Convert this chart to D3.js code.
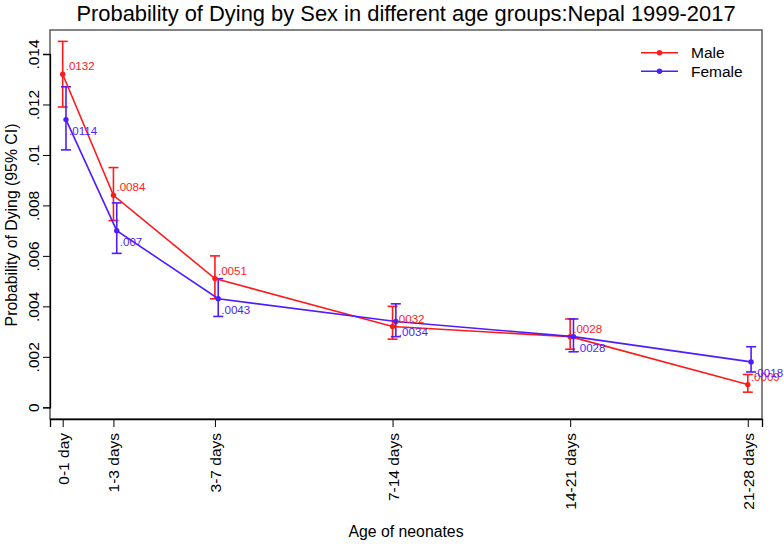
<!DOCTYPE html>
<html>
<head>
<meta charset="utf-8">
<script src="https://cdn.jsdelivr.net/npm/d3@7"></script>
<style>
  html, body { margin: 0; padding: 0; background: #fff; }
  svg { display: block; font-family: "Liberation Sans", Arial, Helvetica, sans-serif; }
</style>
</head>
<body>
<svg id="chart" width="784" height="544"></svg>
<script>
// ---- data ----
const ageGroups = ["0-1 day", "1-3 days", "3-7 days", "7-14 days", "14-21 days", "21-28 days"];
const ageDay = [1, 3, 7, 14, 21, 28];
const maleP  = [0.0132, 0.0084, 0.0051, 0.0032, 0.0028, 0.0009];
const maleLo = [0.0119, 0.0074, 0.0043, 0.0027, 0.0023, 0.0006];
const maleHi = [0.0145, 0.0095, 0.0060, 0.0040, 0.0035, 0.0013];
const maleLabels = [".0132", ".0084", ".0051", ".0032", ".0028", ".0009"];
const femaleP  = [0.0114, 0.0070, 0.0043, 0.0034, 0.0028, 0.0018];
const femaleLo = [0.0102, 0.0061, 0.0036, 0.0028, 0.0022, 0.0014];
const femaleHi = [0.0127, 0.0081, 0.0051, 0.0041, 0.0035, 0.0024];
const femaleLabels = [".0114", ".007", ".0043", ".0034", ".0028", ".0018"];
const yTicks = [0, 0.002, 0.004, 0.006, 0.008, 0.010, 0.012, 0.014];
const yTickLabels = ["0", ".002", ".004", ".006", ".008", ".01", ".012", ".014"];
const seriesNames = ["Male", "Female"];

// ---- layout ----
const svg = d3.select("#chart");
const L = 50, R = 762, T = 30, B = 419;
const x = d3.scaleLinear().domain([0.5, 28.56]).range([L, R]);
const y = d3.scaleLinear().domain([0, 0.014]).range([407.3, 54]);
const RED = "#ff1a1a", BLUE = "#4f1cff";
const FEMALE_DX = 3.3;

// frame
svg.append("rect").attr("x", L).attr("y", T).attr("width", R - L).attr("height", B - T)
  .attr("fill", "none").attr("stroke", "#333").attr("stroke-width", 1.2);

// y axis
const yAxis = svg.append("g").attr("transform", `translate(${L},0)`)
  .call(d3.axisLeft(y).tickValues(yTicks).tickSize(7).tickFormat((d, i) => yTickLabels[i]));
yAxis.select(".domain").attr("stroke", "#000").attr("stroke-width", 1.3);
yAxis.selectAll(".tick line").attr("stroke", "#000").attr("stroke-width", 1);
yAxis.selectAll(".tick text")
  .attr("font-size", 15.5).attr("font-family", "Liberation Sans, Arial, sans-serif")
  .attr("fill", "#000").attr("text-anchor", "middle").attr("dy", null)
  .attr("dominant-baseline", "central")
  .attr("x", null)
  .attr("transform", "translate(-17,0) rotate(-90)");

// x axis
const xAxis = svg.append("g").attr("transform", `translate(0,${B})`)
  .call(d3.axisBottom(x).tickValues(ageDay).tickSize(8).tickFormat((d, i) => ageGroups[i]));
xAxis.select(".domain").attr("stroke", "#000").attr("stroke-width", 1.3);
xAxis.selectAll(".tick line").attr("stroke", "#000").attr("stroke-width", 1);
xAxis.selectAll(".tick text")
  .attr("font-size", 15.5).attr("font-family", "Liberation Sans, Arial, sans-serif")
  .attr("fill", "#000").attr("text-anchor", "end").attr("dy", null).attr("y", null)
  .attr("dominant-baseline", "central")
  .attr("transform", "translate(0,14) rotate(-90)");

// axis titles
svg.append("text").attr("x", 406).attr("y", 536.5).attr("text-anchor", "middle")
  .attr("font-size", 15.8).text("Age of neonates");
svg.append("text").attr("transform", "translate(17,225) rotate(-90)").attr("text-anchor", "middle")
  .attr("font-size", 15.8).text("Probability of Dying (95% CI)");
// title
svg.append("text").attr("x", 406).attr("y", 20.5).attr("text-anchor", "middle")
  .attr("font-size", 21.9).text("Probability of Dying by Sex in different age groups:Nepal 1999-2017");

// series
const series = [
  { name: seriesNames[0], p: maleP, lo: maleLo, hi: maleHi, lab: maleLabels, color: RED, dx: 0, labDy: -4 },
  { name: seriesNames[1], p: femaleP, lo: femaleLo, hi: femaleHi, lab: femaleLabels, color: BLUE, dx: FEMALE_DX, labDy: 15 }
];
const capW = 5;
series.forEach(s => {
  const g = svg.append("g");
  ageDay.forEach((a, i) => {
    const px = x(a) + s.dx;
    g.append("line").attr("x1", px).attr("x2", px).attr("y1", y(s.lo[i])).attr("y2", y(s.hi[i]))
      .attr("stroke", s.color).attr("stroke-width", 1.6);
    [s.lo[i], s.hi[i]].forEach(v => {
      g.append("line").attr("x1", px - capW).attr("x2", px + capW).attr("y1", y(v)).attr("y2", y(v))
        .attr("stroke", s.color).attr("stroke-width", 1.6);
    });
  });
});
series.forEach(s => {
  const line = d3.line().x((d, i) => x(ageDay[i]) + s.dx).y(d => y(d));
  svg.append("path").datum(s.p).attr("d", line).attr("fill", "none")
    .attr("stroke", s.color).attr("stroke-width", 1.6);
  svg.append("g").selectAll("circle").data(s.p).join("circle")
    .attr("cx", (d, i) => x(ageDay[i]) + s.dx).attr("cy", d => y(d)).attr("r", 2.7)
    .attr("fill", s.color);
});
series.forEach(s => {
  svg.append("g").selectAll("text").data(s.p).join("text")
    .attr("x", (d, i) => x(ageDay[i]) + s.dx + 3).attr("y", d => y(d) + s.labDy)
    .attr("font-size", 11.6).attr("fill", s.color).text((d, i) => s.lab[i]);
});

// legend
series.forEach((s, i) => {
  const ly = 52.7 + i * 18.6;
  svg.append("line").attr("x1", 641).attr("x2", 678).attr("y1", ly).attr("y2", ly)
    .attr("stroke", s.color).attr("stroke-width", 1.6);
  svg.append("circle").attr("cx", 659.5).attr("cy", ly).attr("r", 2.7).attr("fill", s.color);
  svg.append("text").attr("x", 691).attr("y", ly).attr("dominant-baseline", "central")
    .attr("font-size", 15.5).text(s.name);
});
</script>
</body>
</html>
